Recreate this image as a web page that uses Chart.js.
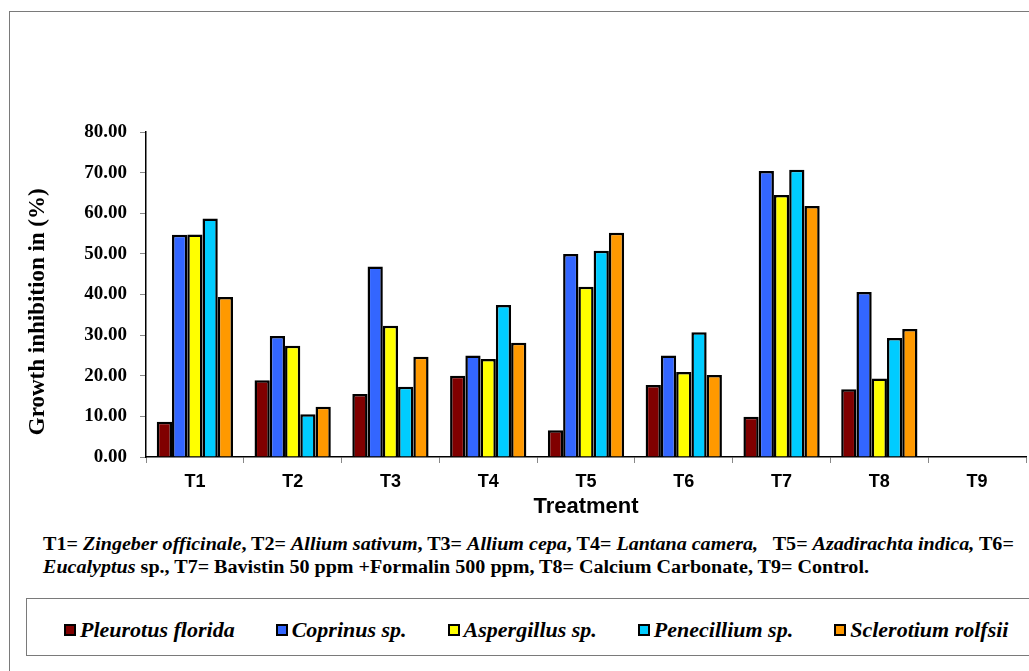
<!DOCTYPE html>
<html>
<head>
<meta charset="utf-8">
<script src="https://cdn.jsdelivr.net/npm/chart.js@4.4.0/dist/chart.umd.min.js"></script>
<style>
    html, body { margin: 0; padding: 0; background: #fff; }
    body { width: 1029px; height: 671px; position: relative; overflow: hidden; font-family: "Liberation Serif", serif; }
    #frame { position: absolute; left: 9px; top: 11px; width: 1100px; height: 800px; border: 1px solid #7a7a7a; }
    #wrap { position: absolute; left: 0; top: 0; width: 1029px; height: 530px; }
    #ghiChu { position: absolute; left: 43px; top: 533px; font-weight: bold; font-size: 18px; line-height: 23px; color: #000; white-space: nowrap; transform: scaleX(1.115); transform-origin: left top; }
    #chuGiai { position: absolute; left: 26px; top: 598px; width: 1100px; height: 58px; border: 1px solid #7a7a7a; box-sizing: border-box; }
    #chuGiai ul { list-style: none; margin: 0; padding: 0 0 0 37px; display: flex; gap: 41px; height: 100%; align-items: center; }
    #chuGiai li { display: flex; align-items: center; font-weight: bold; font-style: italic; font-size: 22px; padding-top: 6px; }
    #chuGiai span.o { display: inline-block; width: 8px; height: 8px; border: 2px solid #000; margin-right: 4px; }
</style>
</head>
<body>
<div id="frame"></div>
<div id="wrap"><canvas id="bieuDo"></canvas></div>
<div id="ghiChu">
    T1= <i>Zingeber officinale</i>, T2= <i>Allium sativum</i>, T3= <i>Allium cepa</i>, T4= <i>Lantana camera,</i>&nbsp;&nbsp; T5= <i>Azadirachta indica,</i> T6=<br>
    <i>Eucalyptus</i> sp., T7= Bavistin 50 ppm +Formalin 500 ppm, T8= Calcium Carbonate, T9= Control.
</div>
<div id="chuGiai"></div>
<script>
// ==================== DỮ LIỆU ====================
const nghiemThuc = ["T1", "T2", "T3", "T4", "T5", "T6", "T7", "T8", "T9"];
const pleurotus = [8.7, 18.9, 15.5, 20.0, 6.6, 17.7, 9.9, 16.7, 0];
const coprinus = [54.7, 29.8, 46.9, 25.0, 50.0, 25.0, 70.4, 40.6, 0];
const aspergillus = [54.8, 27.4, 32.3, 24.1, 41.9, 20.9, 64.5, 19.3, 0];
const penecillium = [58.7, 10.5, 17.3, 37.4, 50.8, 30.7, 70.7, 29.3, 0];
const sclerotium = [39.4, 12.4, 24.7, 28.1, 55.2, 20.2, 61.8, 31.5, 0];
const tenNam = ["Pleurotus florida", "Coprinus sp.", "Aspergillus sp.", "Penecillium sp.", "Sclerotium rolfsii"];
const mau = ["#800000", "#3366ff", "#ffff00", "#00ccff", "#ff9900"];

// ==================== VẼ BIỂU ĐỒ ====================
document.addEventListener("DOMContentLoaded", function () {
    veBieuDo();
});

function veBieuDo() {
    const chuoi = [pleurotus, coprinus, aspergillus, penecillium, sclerotium];

    const chart = new Chart(document.getElementById("bieuDo"), {
        type: "bar",
        data: {
            labels: nghiemThuc,
            datasets: chuoi.map((d, i) => ({
                label: tenNam[i],
                data: d,
                backgroundColor: mau[i],
                borderColor: "#000",
                borderWidth: 2.5,
                categoryPercentage: 0.78,
                barPercentage: 1.0
            }))
        },
        options: {
            responsive: true,
            maintainAspectRatio: false,
            animation: false,
            layout: { padding: { top: 132, right: 3, left: 0, bottom: 0 } },
            plugins: {
                legend: { display: false },
                tooltip: { enabled: false }
            },
            scales: {
                x: {
                    afterFit: s => { s.height = 73; },
                    grid: { drawOnChartArea: false, tickLength: 6, color: "#888", offset: true },
                    border: { color: "#000", width: 1.5 },
                    ticks: { color: "#000", padding: 8, font: { family: "Liberation Sans", size: 18, weight: "bold" } },
                    title: {
                        display: true,
                        text: "Treatment",
                        color: "#000",
                        padding: { top: 0, bottom: 10 },
                        font: { family: "Liberation Sans", size: 22, weight: "bold" }
                    }
                },
                y: {
                    min: 0,
                    max: 80,
                    afterFit: s => { s.width = 146; },
                    grid: { drawOnChartArea: false, tickLength: 6, color: "#888" },
                    border: { color: "#000", width: 1.5 },
                    ticks: {
                        stepSize: 10,
                        color: "#000",
                        padding: 13,
                        font: { family: "Liberation Serif", size: 19, weight: "bold" },
                        callback: v => v.toFixed(2)
                    },
                    title: {
                        display: true,
                        text: "Growth inhibition in (%)      ",
                        color: "#000",
                        padding: { top: 24, bottom: 0 },
                        font: { family: "Liberation Serif", size: 23, weight: "bold" }
                    }
                }
            }
        }
    });

    taoChuGiai(chart);
}

// ==================== CHÚ GIẢI ====================
function taoChuGiai(chart) {
    const ul = document.createElement("ul");
    chart.data.datasets.forEach(ds => {
        const li = document.createElement("li");
        const o = document.createElement("span");
        o.className = "o";
        o.style.background = ds.backgroundColor;
        li.appendChild(o);
        li.appendChild(document.createTextNode(ds.label));
        ul.appendChild(li);
    });
    document.getElementById("chuGiai").appendChild(ul);
}
</script>
</body>
</html>
